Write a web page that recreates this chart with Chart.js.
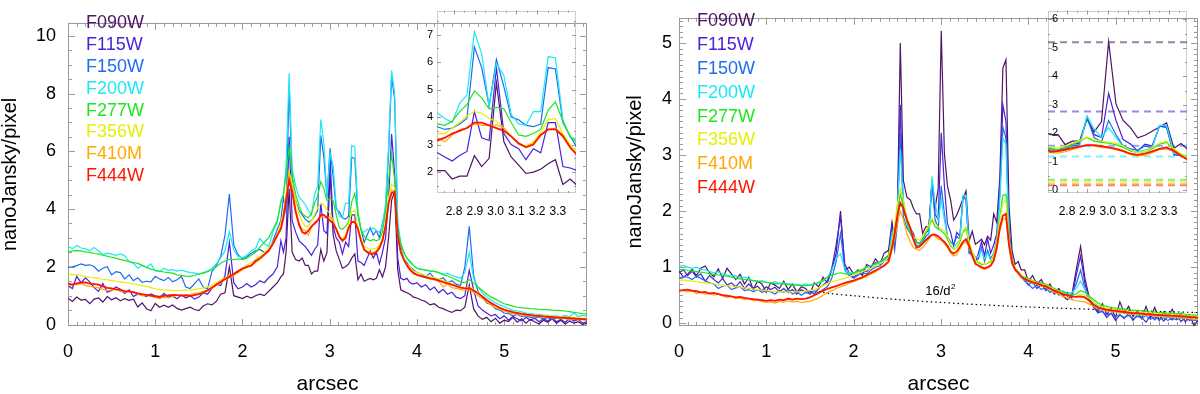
<!DOCTYPE html>
<html>
<head>
<meta charset="utf-8">
<script src="https://cdn.jsdelivr.net/npm/chart.js@4.4.1/dist/chart.umd.min.js"></script>
<style>
  html, body { margin: 0; padding: 0; background: #fff; }
  #wrap { position: relative; width: 1200px; height: 394px; overflow: hidden; background: #fff; }
  #wrap canvas { position: absolute; display: block; }
</style>
</head>
<body>
<div id="wrap">
  <canvas id="leftMain" width="600" height="394" style="left:0;top:0"></canvas>
  <canvas id="rightMain" width="600" height="394" style="left:600px;top:0"></canvas>
  <canvas id="leftInset" width="200" height="225" style="left:390px;top:0"></canvas>
  <canvas id="rightInset" width="200" height="225" style="left:1000px;top:0"></canvas>
</div>
<script>
// radial distance grid (arcsec), shared by every profile
const arcsec = [
  0.00,0.05,0.10,0.15,0.20,0.25,0.30,0.35,0.40,0.45,0.50,0.55,0.60,0.65,0.70,0.75,0.80,0.85,0.90,0.95,
  1.00,1.05,1.10,1.15,1.20,1.25,1.30,1.35,1.40,1.45,1.50,1.55,1.60,1.65,1.70,1.75,1.80,1.85,1.90,1.95,
  2.00,2.05,2.10,2.15,2.20,2.25,2.30,2.35,2.40,
  2.44,2.47,2.50,2.535,2.57,2.61,2.65,2.685,
  2.72,2.756,2.791,2.827,2.862,2.898,2.933,2.969,3.004,3.04,3.075,3.111,3.146,3.182,3.217,3.253,3.288,3.324,3.359,3.395,
  3.43,3.465,3.5,3.535,3.57,3.605,3.64,3.675,3.71,3.745,3.78,3.815,3.85,3.885,3.92,
  3.96,4.00,4.05,4.10,4.15,4.20,4.25,4.30,4.35,4.40,4.45,4.50,4.55,4.60,4.65,4.70,4.75,4.80,4.85,4.90,4.95,
  5.00,5.05,5.10,5.15,5.20,5.25,5.30,5.35,5.40,5.45,5.50,5.55,5.60,5.65,5.70,5.75,5.80,5.85,5.90,5.95
];

const filters = ['F090W', 'F115W', 'F150W', 'F200W', 'F277W', 'F356W', 'F410M', 'F444W'];
const filterColors = ['#4e1466', '#4a20dc', '#1f6cf0', '#1ae8f8', '#1ee61e', '#e4f000', '#ffa800', '#ff1400'];

// left panel profiles (nanoJansky/pixel)
const leftF090W = [
  0.91,0.80,0.95,0.85,0.87,0.72,0.88,0.92,0.78,0.97,0.86,0.93,0.82,0.90,0.84,0.88,0.61,0.75,0.55,0.48,
  0.73,0.60,0.67,0.60,0.68,0.56,0.50,0.55,0.60,0.52,0.48,0.64,0.72,0.68,0.80,1.05,1.10,2.00,1.00,0.95,
  0.90,0.98,0.92,1.00,1.05,1.00,1.15,1.30,1.45,
  1.65,1.75,2.50,4.70,2.50,2.25,2.20,2.30,
  2.05,2.05,1.75,1.85,1.85,2.60,2.20,2.50,5.25,3.10,2.55,2.25,1.95,2.00,2.10,2.30,2.45,1.55,1.75,1.50,
  1.55,1.60,1.55,1.60,1.90,1.65,2.00,3.00,4.30,4.60,1.90,1.20,1.15,1.10,1.05,
  0.95,0.92,0.85,0.80,0.68,0.72,0.60,0.55,0.48,0.42,0.50,0.48,0.60,1.37,0.55,0.30,0.18,0.25,0.10,0.22,0.05,
  0.15,0.10,0.25,0.08,0.20,0.05,0.18,0.10,0.02,0.15,0.08,0.20,0.05,0.15,0.02,0.12,0.05,0.10,0.00,0.05
];
const leftF115W = [
  1.35,1.25,1.67,1.45,1.62,1.48,1.28,1.15,1.42,1.12,1.18,1.30,1.22,1.08,1.20,0.97,1.05,1.02,0.98,1.06,
  1.00,0.92,1.08,0.95,0.99,0.89,1.03,0.92,1.00,0.88,0.95,1.10,1.05,1.25,1.40,1.35,1.70,2.85,1.45,1.24,
  1.30,1.42,1.30,1.38,1.52,1.45,1.62,1.75,2.00,
  2.90,2.50,3.00,6.50,3.60,3.20,2.90,2.80,
  2.70,2.55,2.40,2.60,2.75,4.20,3.25,3.15,5.80,3.40,3.00,2.85,2.45,2.85,2.70,3.80,3.80,2.20,2.15,2.05,
  2.30,2.55,2.30,2.50,2.10,2.50,3.00,4.30,6.60,5.20,2.30,1.60,1.55,1.60,1.45,
  1.40,1.45,1.30,1.38,1.20,1.30,1.10,1.22,1.05,1.12,0.95,0.90,1.00,1.88,1.20,0.65,0.50,0.40,0.30,0.35,0.20,
  0.30,0.15,0.28,0.20,0.12,0.25,0.15,0.22,0.10,0.20,0.12,0.25,0.10,0.18,0.08,0.22,0.12,0.18,0.05,0.10
];
const leftF150W = [
  1.99,2.00,2.04,2.10,2.05,2.07,2.01,1.85,1.95,2.00,1.72,1.83,1.80,1.58,1.72,1.52,1.62,1.46,1.50,1.48,
  1.67,1.58,1.52,1.63,1.48,1.55,1.67,1.30,1.25,1.42,1.58,1.30,1.24,1.83,2.05,2.35,3.10,4.52,2.75,2.42,
  2.26,2.35,2.47,2.55,2.60,2.50,2.55,2.90,3.30,
  3.60,4.40,3.90,8.30,5.00,4.30,3.95,3.80,
  3.65,3.55,3.60,3.75,3.95,6.55,5.80,4.40,6.10,5.10,4.00,3.90,3.70,3.65,3.75,5.80,5.75,3.80,3.30,2.85,
  3.10,3.35,3.10,3.25,3.00,3.50,4.00,5.90,8.60,7.80,3.40,2.70,2.30,2.15,2.00,
  1.90,1.80,1.75,1.65,1.78,1.60,1.55,1.62,1.45,1.52,1.40,1.35,2.00,3.40,1.70,1.15,0.95,0.75,0.70,0.55,0.50,
  0.40,0.38,0.30,0.35,0.28,0.30,0.25,0.22,0.26,0.20,0.24,0.18,0.22,0.20,0.28,0.15,0.25,0.18,0.20,0.15
];
const leftF200W = [
  2.70,2.63,2.74,2.65,2.62,2.56,2.67,2.55,2.42,2.47,2.44,2.40,2.45,2.38,2.18,2.12,1.95,2.05,1.98,2.10,
  1.86,1.83,1.95,1.88,1.90,1.85,1.88,1.84,1.80,1.79,1.75,1.80,1.85,1.95,2.10,2.31,2.55,3.23,2.58,2.36,
  2.31,2.40,2.55,2.63,2.98,2.80,2.70,3.20,3.55,
  4.30,4.50,5.50,8.70,5.40,4.80,4.40,4.30,
  4.15,3.95,3.80,4.50,4.80,7.10,6.30,4.40,5.95,5.50,4.10,3.75,3.70,4.20,4.20,6.20,6.15,3.90,3.25,3.20,
  3.30,3.25,3.35,3.25,3.20,3.40,4.20,6.20,8.80,8.00,3.60,2.80,2.50,2.30,2.15,
  2.05,1.95,1.92,1.90,1.85,1.83,1.80,1.75,1.78,1.70,1.65,1.60,1.80,2.50,1.60,1.30,1.10,0.95,0.85,0.75,0.68,
  0.62,0.55,0.50,0.47,0.44,0.40,0.38,0.36,0.35,0.33,0.32,0.30,0.30,0.28,0.32,0.27,0.40,0.28,0.32,0.30
];
const leftF277W = [
  2.53,2.55,2.56,2.55,2.52,2.50,2.46,2.45,2.40,2.37,2.33,2.30,2.25,2.22,2.18,2.15,2.12,2.05,1.98,1.92,
  1.88,1.85,1.82,1.80,1.78,1.72,1.70,1.68,1.67,1.70,1.75,1.78,1.83,1.90,2.00,2.12,2.20,2.26,2.25,2.27,
  2.25,2.30,2.40,2.50,2.68,2.85,3.00,3.30,3.60,
  4.20,4.50,5.20,6.10,5.20,4.50,4.10,3.85,
  3.75,3.70,3.85,4.20,4.45,4.95,4.70,4.30,4.35,4.30,3.80,3.35,3.30,3.40,3.55,4.25,4.55,3.85,3.30,3.05,
  2.95,2.90,2.95,2.90,2.95,3.20,3.90,5.00,5.90,5.00,3.30,2.80,2.50,2.30,2.20,
  2.05,1.95,1.90,1.88,1.86,1.85,1.80,1.72,1.68,1.62,1.55,1.48,1.45,1.55,1.45,1.30,1.18,1.05,0.95,0.88,0.80,
  0.72,0.68,0.64,0.60,0.58,0.57,0.55,0.54,0.53,0.52,0.52,0.50,0.49,0.48,0.47,0.45,0.42,0.40,0.38,0.37
];
const leftF356W = [
  1.72,1.74,1.73,1.70,1.66,1.63,1.62,1.60,1.57,1.55,1.53,1.50,1.48,1.46,1.44,1.40,1.38,1.35,1.32,1.28,
  1.24,1.22,1.20,1.19,1.18,1.18,1.18,1.19,1.20,1.22,1.24,1.26,1.30,1.37,1.45,1.55,1.62,1.70,1.75,1.85,
  1.95,2.05,2.15,2.25,2.37,2.50,2.65,2.85,3.10,
  3.50,3.90,4.50,5.30,4.90,4.30,3.80,3.55,
  3.40,3.40,3.60,3.80,4.05,4.20,4.15,3.95,3.85,3.60,3.30,3.05,2.95,3.10,3.45,3.90,3.95,3.40,3.00,2.70,
  2.65,2.60,2.62,2.65,2.75,3.00,3.50,4.40,4.85,4.75,3.10,2.60,2.30,2.10,2.00,
  1.85,1.80,1.75,1.70,1.66,1.62,1.58,1.52,1.46,1.40,1.35,1.30,1.28,1.30,1.22,1.10,0.98,0.85,0.75,0.65,0.58,
  0.52,0.47,0.43,0.40,0.38,0.36,0.35,0.33,0.32,0.31,0.30,0.29,0.28,0.27,0.26,0.25,0.24,0.23,0.22,0.22
];
const leftF410M = [
  1.35,1.40,1.38,1.42,1.35,1.33,1.30,1.27,1.22,1.18,1.20,1.22,1.15,1.13,1.15,1.10,1.05,1.00,1.02,0.98,
  0.93,0.90,0.95,0.92,0.97,1.02,1.00,1.03,1.05,1.08,1.10,1.15,1.20,1.25,1.35,1.45,1.55,1.62,1.70,1.80,
  1.90,1.98,2.05,2.15,2.25,2.40,2.55,2.80,3.05,
  3.40,3.80,4.40,5.20,4.70,4.00,3.50,3.30,
  3.25,3.10,3.35,3.55,3.60,3.75,3.70,3.70,3.72,3.60,3.30,3.00,2.92,3.05,3.35,3.55,3.60,3.35,2.90,2.60,
  2.55,2.50,2.50,2.55,2.70,2.95,3.40,4.20,4.65,4.60,3.00,2.50,2.25,2.05,1.95,
  1.80,1.72,1.68,1.62,1.58,1.55,1.50,1.30,1.40,1.28,1.25,1.22,1.18,1.20,1.12,1.00,0.90,0.78,0.68,0.58,0.52,
  0.47,0.42,0.38,0.35,0.33,0.31,0.30,0.28,0.27,0.26,0.25,0.24,0.22,0.22,0.20,0.19,0.18,0.17,0.16,0.15
];
const leftF444W = [
  1.42,1.38,1.43,1.45,1.46,1.42,1.40,1.38,1.32,1.27,1.25,1.22,1.20,1.16,1.15,1.12,1.08,1.05,1.03,1.00,
  0.98,0.97,0.99,1.01,1.03,1.02,1.00,1.01,0.99,1.02,1.05,1.10,1.18,1.28,1.38,1.48,1.58,1.66,1.75,1.85,
  1.94,2.00,2.04,2.20,2.30,2.42,2.55,2.80,3.10,
  3.30,3.70,4.30,5.00,4.60,3.90,3.45,3.20,
  3.15,3.25,3.40,3.50,3.60,3.80,3.80,3.70,3.60,3.50,3.30,3.05,2.90,3.00,3.35,3.55,3.55,3.30,2.90,2.60,
  2.50,2.45,2.45,2.50,2.65,2.90,3.40,4.20,4.55,4.60,3.10,2.50,2.25,2.05,1.90,
  1.78,1.72,1.68,1.63,1.60,1.57,1.52,1.47,1.43,1.38,1.33,1.28,1.25,1.26,1.18,1.08,0.97,0.85,0.75,0.66,0.58,
  0.52,0.47,0.43,0.40,0.37,0.35,0.33,0.31,0.30,0.28,0.27,0.26,0.25,0.24,0.23,0.22,0.21,0.20,0.19,0.18
];

// right panel profiles (nanoJansky/pixel)
const rightF090W = [
  0.93,0.82,0.88,0.96,0.85,0.98,1.02,0.90,0.83,0.97,0.80,0.98,0.88,0.78,0.87,0.70,0.82,0.60,0.75,0.70,
  0.55,0.72,0.68,0.62,0.75,0.60,0.70,0.55,0.65,0.62,0.52,0.72,0.65,0.82,0.72,0.95,1.25,2.00,0.95,1.00,
  0.88,0.95,0.85,1.05,1.00,1.15,1.05,1.25,1.30,
  1.80,1.50,1.80,5.00,2.55,2.25,2.20,2.05,
  1.95,1.95,1.60,1.72,1.73,2.50,2.05,2.40,5.22,3.03,2.45,2.20,1.84,1.93,2.07,2.22,2.36,1.47,1.64,1.41,
  1.45,1.50,1.40,1.55,1.48,1.95,1.80,2.60,4.55,4.70,2.10,1.30,1.05,1.10,0.95,
  0.95,0.75,0.85,0.70,0.78,0.62,0.70,0.55,0.62,0.48,0.42,0.50,0.95,1.37,0.80,0.45,0.30,0.20,0.35,0.15,0.28,
  0.10,0.38,0.18,0.30,0.12,0.22,0.08,0.30,0.10,0.28,0.05,0.20,0.12,0.25,0.08,0.18,0.02,0.15,-0.05,0.08
];
const rightF115W = [
  0.90,0.95,0.85,0.93,0.82,0.88,0.75,0.85,0.78,0.72,0.80,0.68,0.72,0.65,0.74,0.62,0.70,0.62,0.66,0.58,
  0.65,0.60,0.64,0.56,0.62,0.55,0.60,0.52,0.60,0.55,0.58,0.52,0.62,0.68,0.75,0.98,1.40,1.90,1.05,0.90,
  0.82,0.88,0.95,0.92,1.00,1.08,1.05,1.15,1.20,
  1.75,1.40,1.90,3.90,2.00,1.85,1.70,1.60,
  1.45,1.42,1.50,1.62,1.65,2.55,1.95,1.85,3.40,2.45,1.78,1.62,1.38,1.62,1.55,2.25,2.22,1.25,1.22,1.08,
  1.25,1.45,1.20,1.50,1.25,1.40,1.60,2.40,3.90,3.60,1.70,1.15,0.95,0.92,0.85,
  0.78,0.68,0.75,0.62,0.70,0.58,0.64,0.52,0.58,0.48,0.55,0.45,0.85,1.20,0.70,0.42,0.28,0.18,0.22,0.10,0.18,
  0.05,0.15,0.08,0.18,0.05,0.15,0.10,0.02,0.14,0.06,0.16,0.04,0.12,0.06,0.15,0.03,0.10,0.05,0.12,0.02
];
const rightF150W = [
  0.80,0.83,0.82,0.78,0.84,0.80,0.76,0.72,0.70,0.62,0.66,0.68,0.60,0.63,0.65,0.58,0.60,0.56,0.60,0.55,
  0.58,0.56,0.52,0.58,0.55,0.60,0.52,0.56,0.50,0.55,0.52,0.58,0.54,0.60,0.65,0.80,1.10,1.60,0.95,0.85,
  0.80,0.85,0.90,0.88,0.95,1.00,1.02,1.10,1.15,
  1.65,1.30,1.75,3.40,1.90,1.70,1.60,1.50,
  1.40,1.38,1.45,1.55,1.60,2.55,1.85,1.70,2.45,1.95,1.55,1.45,1.40,1.55,1.50,2.25,2.20,1.25,1.22,1.10,
  1.15,1.35,1.10,1.30,1.15,1.25,1.50,2.30,3.50,3.30,1.60,1.10,0.95,0.90,0.82,
  0.75,0.70,0.62,0.68,0.60,0.64,0.55,0.60,0.50,0.55,0.48,0.52,0.70,0.95,0.60,0.40,0.30,0.22,0.20,0.15,0.18,
  0.12,0.15,0.10,0.14,0.08,0.12,0.09,0.13,0.07,0.11,0.06,0.10,0.05,0.09,0.06,0.10,0.04,0.08,0.05,0.06
];
const rightF200W = [
  1.01,1.03,1.00,0.98,1.00,0.96,0.95,0.92,0.90,0.92,0.88,0.86,0.84,0.85,0.80,0.82,0.79,0.76,0.74,0.76,
  0.73,0.72,0.74,0.71,0.72,0.70,0.70,0.69,0.68,0.70,0.68,0.70,0.72,0.75,0.82,0.95,1.15,1.24,0.95,0.90,
  0.88,0.92,0.95,1.00,1.02,1.05,1.08,1.12,1.18,
  1.60,1.70,2.00,3.10,2.20,1.80,1.60,1.50,
  1.40,1.36,1.42,1.50,1.55,2.62,2.15,1.85,2.20,1.85,1.53,1.38,1.35,1.42,1.48,2.28,2.28,1.30,1.27,1.18,
  1.20,1.30,1.15,1.25,1.12,1.22,1.45,2.20,3.30,3.20,1.55,1.10,0.95,0.90,0.82,
  0.80,0.76,0.70,0.72,0.66,0.68,0.60,0.62,0.55,0.58,0.52,0.55,0.62,0.75,0.60,0.45,0.38,0.30,0.26,0.24,0.20,
  0.22,0.18,0.20,0.16,0.18,0.14,0.16,0.12,0.15,0.12,0.14,0.10,0.13,0.10,0.12,0.08,0.11,0.08,0.10,0.07
];
const rightF277W = [
  0.95,0.96,0.94,0.93,0.92,0.91,0.90,0.88,0.87,0.86,0.85,0.84,0.82,0.80,0.79,0.78,0.77,0.76,0.75,0.74,
  0.73,0.72,0.71,0.70,0.70,0.69,0.68,0.68,0.67,0.67,0.68,0.70,0.73,0.77,0.82,0.86,0.88,0.90,0.88,0.88,
  0.90,0.93,0.96,1.00,1.03,1.06,1.10,1.15,1.22,
  1.45,1.70,2.00,2.30,2.10,1.80,1.60,1.50,
  1.45,1.42,1.50,1.60,1.72,1.85,1.72,1.68,1.65,1.60,1.50,1.38,1.32,1.35,1.45,1.62,1.68,1.42,1.25,1.12,
  1.08,1.05,1.05,1.07,1.10,1.20,1.45,1.90,2.28,2.30,1.50,1.12,0.98,0.92,0.85,
  0.82,0.80,0.76,0.74,0.72,0.70,0.66,0.62,0.58,0.56,0.53,0.50,0.52,0.58,0.55,0.48,0.42,0.36,0.32,0.30,0.28,
  0.27,0.26,0.25,0.24,0.23,0.23,0.22,0.21,0.20,0.20,0.19,0.19,0.18,0.18,0.17,0.17,0.16,0.15,0.15,0.14
];
const rightF356W = [
  0.77,0.77,0.76,0.75,0.74,0.73,0.72,0.71,0.70,0.69,0.68,0.67,0.66,0.65,0.64,0.63,0.62,0.61,0.60,0.59,
  0.58,0.57,0.57,0.56,0.56,0.56,0.56,0.56,0.56,0.57,0.58,0.60,0.63,0.67,0.71,0.74,0.76,0.78,0.80,0.83,
  0.86,0.89,0.92,0.95,0.98,1.02,1.06,1.10,1.18,
  1.45,1.75,2.10,2.40,2.20,1.90,1.70,1.55,
  1.50,1.48,1.55,1.65,1.75,1.87,1.78,1.72,1.68,1.65,1.55,1.40,1.32,1.35,1.50,1.65,1.72,1.45,1.28,1.12,
  1.10,1.07,1.05,1.08,1.12,1.22,1.45,1.85,2.15,2.20,1.50,1.12,0.98,0.92,0.85,
  0.80,0.78,0.75,0.72,0.70,0.68,0.64,0.60,0.57,0.54,0.51,0.48,0.48,0.52,0.50,0.44,0.38,0.33,0.29,0.27,0.25,
  0.24,0.23,0.22,0.21,0.20,0.20,0.19,0.18,0.18,0.17,0.17,0.16,0.16,0.15,0.15,0.14,0.14,0.13,0.12,0.12
];
const rightF410M = [
  0.58,0.58,0.56,0.58,0.53,0.55,0.52,0.53,0.50,0.52,0.48,0.46,0.48,0.44,0.45,0.42,0.44,0.40,0.41,0.39,
  0.37,0.38,0.36,0.39,0.37,0.40,0.38,0.39,0.37,0.38,0.39,0.42,0.45,0.50,0.55,0.58,0.62,0.65,0.68,0.72,
  0.74,0.77,0.80,0.84,0.88,0.92,0.97,1.02,1.08,
  1.30,1.50,1.75,2.00,1.85,1.60,1.45,1.35,
  1.32,1.30,1.35,1.42,1.50,1.58,1.55,1.50,1.48,1.42,1.35,1.25,1.20,1.22,1.32,1.42,1.45,1.35,1.20,1.08,
  1.02,0.98,0.96,0.98,1.02,1.10,1.30,1.65,1.85,1.88,1.35,1.05,0.95,0.88,0.82,
  0.78,0.75,0.72,0.70,0.66,0.64,0.60,0.55,0.52,0.48,0.45,0.42,0.40,0.39,0.38,0.34,0.30,0.26,0.24,0.22,0.21,
  0.20,0.19,0.18,0.17,0.16,0.16,0.15,0.14,0.14,0.13,0.12,0.12,0.11,0.11,0.10,0.09,0.09,0.08,0.07,0.07
];
const rightF444W = [
  0.58,0.59,0.60,0.58,0.57,0.55,0.56,0.53,0.54,0.52,0.50,0.49,0.48,0.46,0.47,0.45,0.44,0.43,0.42,0.41,
  0.40,0.41,0.40,0.42,0.41,0.44,0.42,0.44,0.43,0.44,0.46,0.50,0.54,0.58,0.61,0.64,0.66,0.69,0.72,0.74,
  0.76,0.79,0.82,0.86,0.90,0.94,0.98,1.03,1.10,
  1.35,1.60,1.90,2.15,2.05,1.85,1.70,1.50,
  1.35,1.37,1.42,1.48,1.53,1.58,1.58,1.55,1.50,1.45,1.38,1.28,1.24,1.28,1.36,1.45,1.50,1.38,1.20,1.06,
  1.03,1.00,0.98,1.00,1.03,1.12,1.35,1.70,1.92,1.95,1.40,1.08,0.96,0.90,0.83,
  0.79,0.76,0.73,0.71,0.68,0.66,0.62,0.58,0.55,0.52,0.50,0.48,0.47,0.48,0.46,0.40,0.33,0.28,0.26,0.24,0.23,
  0.22,0.21,0.20,0.19,0.18,0.18,0.17,0.16,0.16,0.15,0.15,0.14,0.14,0.13,0.13,0.12,0.12,0.11,0.11,0.10
];

// 16/d^2 reference curve (right panel)
const curveArcsec = [1.6, 1.73, 2.0, 2.52, 3.0, 3.45, 4.0, 4.5, 5.0, 5.5, 5.95];
const curveLevel = [0.57, 0.53, 0.49, 0.42, 0.37, 0.33, 0.29, 0.26, 0.235, 0.21, 0.19];

// dashed levels in the right inset, one per filter
const insetLevels = [5.2, 2.76, 1.56, 1.18, 0.37, 0.30, 0.23, 0.17];

// tick labels
const xTicks = [0, 1, 2, 3, 4, 5];
const leftYTicks = [0, 2, 4, 6, 8, 10];
const rightYTicks = [0, 1, 2, 3, 4, 5];
const insetXTicks = [2.8, 2.9, 3.0, 3.1, 3.2, 3.3];
const leftInsetYTicks = [2, 3, 4, 5, 6, 7];
const rightInsetYTicks = [0, 1, 2, 3, 4, 5, 6];

const leftSeries = [leftF090W, leftF115W, leftF150W, leftF200W, leftF277W, leftF356W, leftF410M, leftF444W];
const rightSeries = [rightF090W, rightF115W, rightF150W, rightF200W, rightF277W, rightF356W, rightF410M, rightF444W];

const family = "'Liberation Sans', Arial, Helvetica, sans-serif";

function stepValues(min, max, step) {
  const out = [];
  for (let k = Math.ceil(min / step - 1e-6); k * step <= max + 1e-9; k++) out.push(k * step);
  return out;
}

function withAlpha(hex, a) {
  const n = parseInt(hex.slice(1), 16);
  return `rgba(${n >> 16},${(n >> 8) & 255},${n & 255},${a})`;
}

// IDL style box: frame plus inward ticks on all four sides
const frameTicks = {
  id: 'frameTicks',
  beforeDatasetsDraw(chart, args, o) {
    const {ctx, chartArea: a} = chart;
    const sx = chart.scales.x, sy = chart.scales.y;
    ctx.save();
    ctx.strokeStyle = o.color;
    ctx.lineWidth = 1;
    ctx.setLineDash(o.frameDash || []);
    ctx.strokeRect(Math.round(a.left) + 0.5, Math.round(a.top) + 0.5,
      Math.round(a.right - a.left) - 1, Math.round(a.bottom - a.top) - 1);
    ctx.setLineDash([]);
    ctx.beginPath();
    const xMarks = (step, len) => stepValues(sx.min, sx.max, step).forEach(v => {
      const p = Math.round(sx.getPixelForValue(v)) + 0.5;
      ctx.moveTo(p, a.bottom); ctx.lineTo(p, a.bottom - len);
      ctx.moveTo(p, a.top); ctx.lineTo(p, a.top + len);
    });
    const yMarks = (step, len) => stepValues(sy.min, sy.max, step).forEach(v => {
      const p = Math.round(sy.getPixelForValue(v)) + 0.5;
      ctx.moveTo(a.left, p); ctx.lineTo(a.left + len, p);
      ctx.moveTo(a.right, p); ctx.lineTo(a.right - len, p);
    });
    if (o.xMinor) xMarks(o.xMinor, o.minorLen);
    if (o.yMinor) yMarks(o.yMinor, o.minorLen);
    xMarks(o.xMajor, o.majorLen);
    yMarks(o.yMajor, o.majorLen);
    ctx.stroke();
    ctx.restore();
  }
};

// filter names written in their own colours
const filterLegend = {
  id: 'filterLegend',
  afterDraw(chart, args, o) {
    if (!o.show) return;
    const {ctx} = chart;
    ctx.save();
    ctx.font = `${o.size}px ${family}`;
    ctx.textAlign = 'left';
    ctx.textBaseline = 'middle';
    chart.data.datasets.filter(d => d.isFilter).forEach((d, i) => {
      ctx.fillStyle = d.borderColor;
      ctx.fillText(d.label, o.x, o.y + i * o.dy);
    });
    ctx.restore();
  }
};

// "16/d²" note next to the dotted curve
const curveNote = {
  id: 'curveNote',
  afterDraw(chart, args, o) {
    if (!o.at) return;
    const {ctx} = chart;
    const px = chart.scales.x.getPixelForValue(o.at[0]);
    const py = chart.scales.y.getPixelForValue(o.at[1]);
    ctx.save();
    ctx.fillStyle = '#000';
    ctx.textBaseline = 'middle';
    ctx.textAlign = 'left';
    ctx.font = `13px ${family}`;
    ctx.fillText('16/d', px, py);
    const w = ctx.measureText('16/d').width;
    ctx.font = `8px ${family}`;
    ctx.fillText('2', px + w + 0.5, py - 5);
    ctx.restore();
  }
};

function profileSets(series) {
  return series.map((vals, i) => ({
    label: filters[i],
    isFilter: true,
    data: arcsec.map((x, j) => ({x, y: vals[j]})),
    borderColor: filterColors[i],
    borderWidth: i === 7 ? 1.8 : 1.2,
    pointRadius: 0,
    tension: 0,
    fill: false,
    order: 8 - i
  }));
}

function makeChart(id, datasets, c) {
  return new Chart(document.getElementById(id), {
    type: 'line',
    data: {datasets},
    plugins: [frameTicks, filterLegend, curveNote],
    options: {
      responsive: false,
      animation: false,
      events: [],
      layout: {padding: c.padding},
      plugins: {
        legend: {display: false},
        tooltip: {enabled: false},
        frameTicks: c.frame,
        filterLegend: c.legend || {show: false},
        curveNote: c.note || {}
      },
      scales: {
        x: {
          type: 'linear', min: c.xMin, max: c.xMax,
          grid: {display: false, drawTicks: false}, border: {display: false},
          afterBuildTicks: s => { s.ticks = c.xTicks.map(v => ({value: v})); },
          afterFit: s => { s.height = c.xHeight; },
          ticks: {
            color: '#000', font: {family, size: c.xTickSize}, padding: c.xTickPad,
            maxRotation: 0, autoSkip: false,
            callback: c.xFmt || (v => String(v))
          },
          title: c.xTitle ? {
            display: true, text: c.xTitle, color: '#000',
            font: {family, size: 21, lineHeight: 1}, padding: {top: 0, bottom: -1}
          } : {display: false}
        },
        y: {
          type: 'linear', min: c.yMin, max: c.yMax,
          grid: {display: false, drawTicks: false}, border: {display: false},
          afterBuildTicks: s => { s.ticks = c.yTicks.map(v => ({value: v})); },
          afterFit: s => { s.width = c.yWidth; },
          ticks: {
            color: '#000', font: {family, size: c.yTickSize}, padding: c.yTickPad,
            mirror: !!c.yMirror, autoSkip: false,
            callback: v => String(v)
          },
          title: c.yTitle ? {
            display: true, text: c.yTitle, color: '#000',
            font: {family, size: 20, lineHeight: 1}, padding: {top: c.yTitlePad, bottom: 0}
          } : {display: false}
        }
      }
    }
  });
}

const mainFrame = (yMajor, yMinor) => ({
  color: '#9a9a9a', xMajor: 1, xMinor: 0.1, yMajor, yMinor, majorLen: 7, minorLen: 4
});
const insetFrame = {
  color: '#9a9a9a', frameDash: [1, 1], xMajor: 0.1, xMinor: 0.05, yMajor: 1, yMinor: 0.5, majorLen: 4, minorLen: 2
};

// left panel
makeChart('leftMain', profileSets(leftSeries), {
  padding: {left: 0, right: 13, top: 1, bottom: 0},
  xMin: 0, xMax: 5.95, xTicks, xHeight: 68, xTickSize: 18, xTickPad: 15, xTitle: 'arcsec',
  yMin: -0.05, yMax: 10.45, yTicks: leftYTicks, yWidth: 68, yTickSize: 18, yTickPad: 12,
  yTitle: 'nanoJansky/pixel', yTitlePad: 0,
  frame: mainFrame(2, 0.5),
  legend: {show: true, x: 86, y: 23, dy: 21.9, size: 18}
});

// right panel, with the 16/d² curve
const rightSets = profileSets(rightSeries);
rightSets.push({
  label: '16/d2',
  data: curveArcsec.map((x, j) => ({x, y: curveLevel[j]})),
  borderColor: '#000', borderWidth: 1.2, borderDash: [1.5, 3],
  pointRadius: 0, tension: 0.3, fill: false, order: 9
});
makeChart('rightMain', rightSets, {
  padding: {left: 0, right: 2, top: 1, bottom: 0},
  xMin: 0, xMax: 5.945, xTicks, xHeight: 68, xTickSize: 18, xTickPad: 15, xTitle: 'arcsec',
  yMin: -0.05, yMax: 5.45, yTicks: rightYTicks, yWidth: 79, yTickSize: 18, yTickPad: 7,
  yTitle: 'nanoJansky/pixel', yTitlePad: 25,
  frame: mainFrame(1, 0.1),
  legend: {show: true, x: 97, y: 21.5, dy: 23.8, size: 18},
  note: {at: [2.82, 0.56]}
});

// insets zoom on 2.7-3.4 arcsec
makeChart('leftInset', profileSets(leftSeries), {
  padding: {left: 0, right: 14, top: 9, bottom: 0},
  xMin: 2.718, xMax: 3.387, xTicks: insetXTicks, xHeight: 32, xTickSize: 12, xTickPad: 11,
  xFmt: v => Number(v).toFixed(1),
  yMin: 1.24, yMax: 7.87, yTicks: leftInsetYTicks, yWidth: 47, yTickSize: 11, yTickPad: 4,
  frame: insetFrame
});

const insetSets = profileSets(rightSeries);
insetLevels.forEach((lvl, i) => insetSets.push({
  label: filters[i] + ' level',
  data: [{x: 2.707, y: lvl}, {x: 3.388, y: lvl}],
  borderColor: withAlpha(filterColors[i], 0.55), borderWidth: 2, borderDash: [7, 5],
  pointRadius: 0, fill: false, order: 20
}));
makeChart('rightInset', insetSets, {
  padding: {left: 0, right: 13, top: 10, bottom: 0},
  xMin: 2.707, xMax: 3.388, xTicks: insetXTicks, xHeight: 32, xTickSize: 12, xTickPad: 11,
  xFmt: v => Number(v).toFixed(1),
  yMin: -0.1, yMax: 6.31, yTicks: rightInsetYTicks, yWidth: 48, yTickSize: 11, yTickPad: 4, yMirror: true,
  frame: insetFrame
});
</script>
</body>
</html>
